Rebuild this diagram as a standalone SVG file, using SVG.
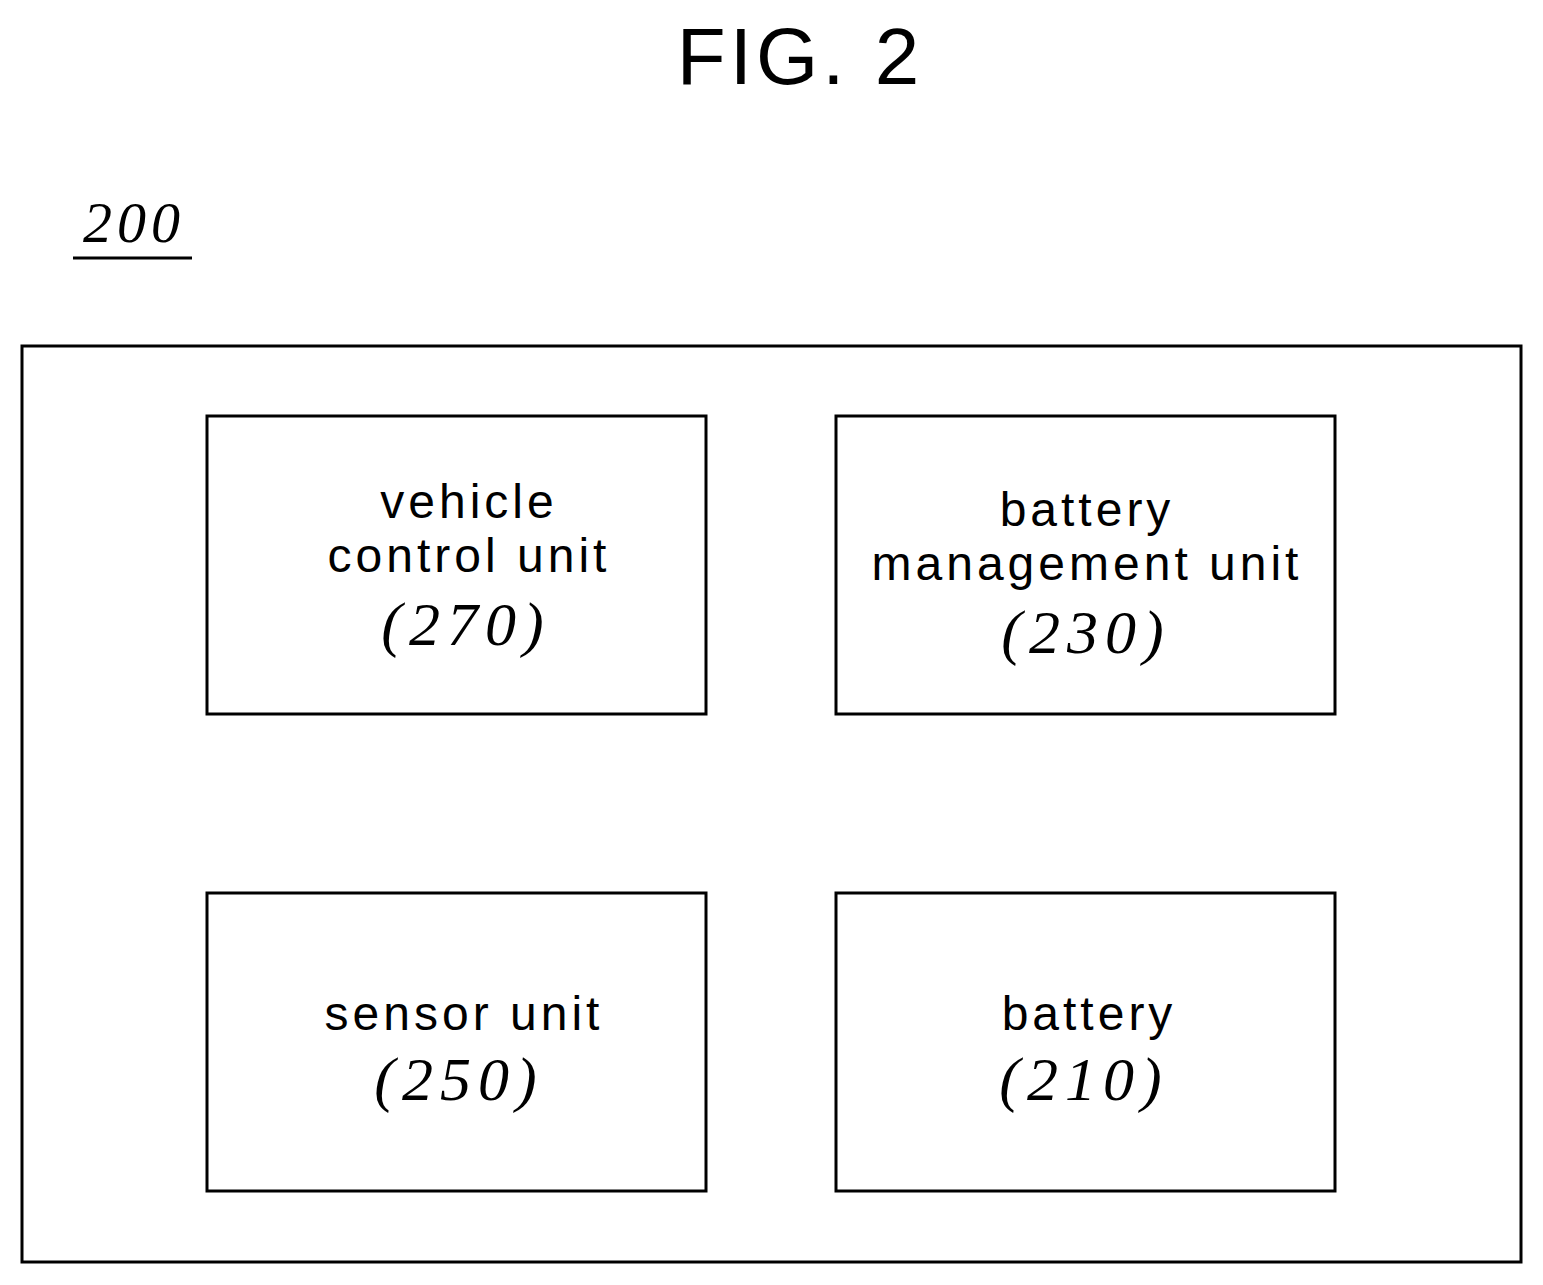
<svg xmlns="http://www.w3.org/2000/svg" width="1543" height="1285" viewBox="0 0 1543 1285">
<style>
.b{fill:none;stroke:#000;stroke-width:3}
.t{font-family:"Liberation Sans",Arial,sans-serif;font-size:48px;letter-spacing:4px;text-anchor:middle;fill:#000}
.n{font-family:"Liberation Serif",serif;font-style:italic;font-size:62px;letter-spacing:7px;text-anchor:middle;fill:#000}
</style>
<rect width="1543" height="1285" fill="#fff"/>
<text x="800" y="84" class="t" style="font-size:80px">FIG. 2</text>
<text x="134" y="242" class="n" style="font-size:58px;letter-spacing:5px">200</text>
<line x1="73" y1="258" x2="192" y2="258" stroke="#000" stroke-width="3"/>
<rect id="outer" x="22" y="346" width="1499" height="916" class="b"/>
<g id="n270"><rect x="207" y="416" width="499" height="298" class="b"/><text x="469" y="518" class="t">vehicle</text><text x="469" y="572" class="t">control unit</text><text x="466" y="645" class="n">(270)</text></g>
<g id="n230"><rect x="836" y="416" width="499" height="298" class="b"/><text x="1087" y="526" class="t">battery</text><text x="1087" y="580" class="t">management unit</text><text x="1086" y="653" class="n">(230)</text></g>
<g id="n250"><rect x="207" y="893" width="499" height="298" class="b"/><text x="464" y="1030" class="t">sensor unit</text><text x="459" y="1100" class="n">(250)</text></g>
<g id="n210"><rect x="836" y="893" width="499" height="298" class="b"/><text x="1089" y="1030" class="t">battery</text><text x="1084" y="1100" class="n">(210)</text></g>
<g id="connectors"></g>
</svg>
